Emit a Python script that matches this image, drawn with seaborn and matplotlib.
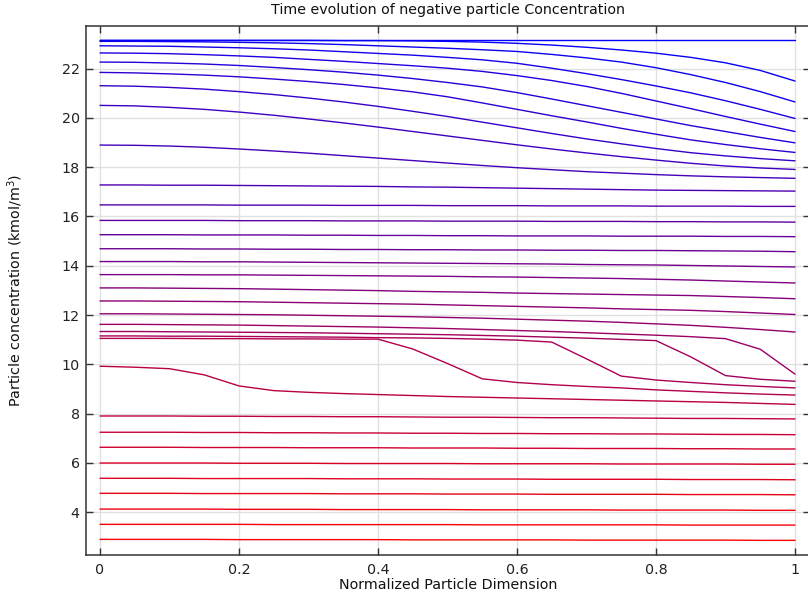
import matplotlib
matplotlib.use("Agg")
import matplotlib.pyplot as plt
import pandas as pd
import seaborn as sns

# Normalized radial position inside the particle (0 = centre, 1 = surface)
x_pos = [0.00, 0.05, 0.10, 0.15, 0.20, 0.25, 0.30, 0.35, 0.40, 0.45, 0.50,
         0.55, 0.60, 0.65, 0.70, 0.75, 0.80, 0.85, 0.90, 0.95, 1.00]

# Concentration profiles (kmol/m^3), one list per saved time step
c00 = [23.15, 23.15, 23.15, 23.15, 23.15, 23.15, 23.15, 23.15, 23.15, 23.15, 23.15,
       23.15, 23.15, 23.15, 23.15, 23.15, 23.15, 23.15, 23.15, 23.15, 23.15]
c01 = [23.15, 23.15, 23.15, 23.15, 23.15, 23.15, 23.15, 23.14, 23.14, 23.13, 23.11,
       23.08, 23.03, 22.96, 22.87, 22.76, 22.63, 22.46, 22.24, 21.93, 21.50]
c02 = [23.11, 23.11, 23.10, 23.09, 23.07, 23.05, 23.02, 22.98, 22.93, 22.88, 22.83,
       22.77, 22.70, 22.58, 22.44, 22.27, 22.04, 21.76, 21.44, 21.07, 20.65]
c03 = [22.93, 22.92, 22.91, 22.88, 22.85, 22.81, 22.76, 22.69, 22.62, 22.55, 22.46,
       22.36, 22.22, 22.02, 21.80, 21.56, 21.30, 21.02, 20.70, 20.35, 19.98]
c04 = [22.64, 22.63, 22.61, 22.57, 22.52, 22.46, 22.38, 22.30, 22.21, 22.12, 22.02,
       21.89, 21.72, 21.52, 21.28, 21.00, 20.69, 20.38, 20.06, 19.75, 19.45]
c05 = [22.27, 22.26, 22.23, 22.19, 22.13, 22.05, 21.96, 21.86, 21.74, 21.60, 21.44,
       21.26, 21.03, 20.77, 20.50, 20.23, 19.96, 19.69, 19.45, 19.21, 18.99]
c06 = [21.85, 21.83, 21.79, 21.74, 21.67, 21.58, 21.48, 21.36, 21.22, 21.06, 20.86,
       20.61, 20.35, 20.09, 19.84, 19.58, 19.34, 19.11, 18.92, 18.75, 18.60]
c07 = [21.31, 21.29, 21.24, 21.17, 21.07, 20.95, 20.81, 20.65, 20.47, 20.27, 20.06,
       19.83, 19.60, 19.37, 19.15, 18.95, 18.76, 18.59, 18.46, 18.35, 18.26]
c08 = [20.51, 20.49, 20.43, 20.35, 20.24, 20.11, 19.96, 19.80, 19.63, 19.45, 19.27,
       19.09, 18.91, 18.74, 18.58, 18.43, 18.29, 18.16, 18.05, 17.97, 17.91]
c09 = [18.90, 18.89, 18.86, 18.81, 18.74, 18.66, 18.57, 18.47, 18.37, 18.27, 18.17,
       18.07, 17.98, 17.90, 17.82, 17.76, 17.70, 17.65, 17.61, 17.58, 17.55]
c10 = [17.28, 17.28, 17.27, 17.27, 17.26, 17.25, 17.24, 17.23, 17.22, 17.20, 17.19,
       17.17, 17.15, 17.13, 17.11, 17.09, 17.07, 17.06, 17.05, 17.04, 17.03]
c11 = [16.47, 16.47, 16.47, 16.47, 16.46, 16.46, 16.46, 16.45, 16.45, 16.45, 16.44,
       16.44, 16.44, 16.43, 16.43, 16.43, 16.42, 16.42, 16.42, 16.41, 16.41]
c12 = [15.84, 15.84, 15.84, 15.84, 15.83, 15.83, 15.83, 15.82, 15.82, 15.82, 15.81,
       15.81, 15.81, 15.80, 15.80, 15.80, 15.79, 15.79, 15.78, 15.78, 15.77]
c13 = [15.26, 15.26, 15.26, 15.25, 15.25, 15.25, 15.24, 15.24, 15.23, 15.23, 15.22,
       15.22, 15.21, 15.21, 15.21, 15.20, 15.20, 15.20, 15.19, 15.19, 15.18]
c14 = [14.69, 14.69, 14.69, 14.68, 14.68, 14.67, 14.67, 14.66, 14.66, 14.65, 14.65,
       14.64, 14.64, 14.63, 14.63, 14.62, 14.62, 14.61, 14.60, 14.59, 14.57]
c15 = [14.17, 14.17, 14.17, 14.16, 14.16, 14.15, 14.14, 14.13, 14.12, 14.11, 14.10,
       14.09, 14.08, 14.07, 14.05, 14.04, 14.03, 14.01, 13.99, 13.97, 13.95]
c16 = [13.64, 13.64, 13.64, 13.63, 13.63, 13.62, 13.61, 13.60, 13.59, 13.58, 13.57,
       13.55, 13.54, 13.52, 13.50, 13.48, 13.45, 13.42, 13.38, 13.34, 13.30]
c17 = [13.10, 13.10, 13.09, 13.08, 13.07, 13.05, 13.03, 13.01, 12.99, 12.96, 12.94,
       12.92, 12.89, 12.87, 12.85, 12.83, 12.81, 12.79, 12.75, 12.71, 12.66]
c18 = [12.57, 12.57, 12.56, 12.55, 12.54, 12.52, 12.50, 12.48, 12.46, 12.44, 12.41,
       12.38, 12.35, 12.32, 12.29, 12.25, 12.22, 12.19, 12.14, 12.08, 12.02]
c19 = [12.05, 12.05, 12.04, 12.03, 12.02, 12.01, 11.99, 11.97, 11.95, 11.93, 11.90,
       11.87, 11.83, 11.79, 11.75, 11.70, 11.64, 11.58, 11.50, 11.41, 11.31]
c20 = [11.62, 11.62, 11.61, 11.60, 11.59, 11.57, 11.55, 11.53, 11.51, 11.48, 11.45,
       11.41, 11.37, 11.33, 11.28, 11.23, 11.18, 11.12, 11.04, 10.61, 9.60]
c21 = [11.33, 11.33, 11.32, 11.31, 11.30, 11.29, 11.28, 11.26, 11.24, 11.22, 11.20,
       11.17, 11.14, 11.10, 11.06, 11.01, 10.96, 10.30, 9.54, 9.39, 9.31]
c22 = [11.15, 11.15, 11.14, 11.14, 11.13, 11.12, 11.11, 11.10, 11.08, 11.07, 11.05,
       11.02, 10.98, 10.90, 10.22, 9.52, 9.36, 9.26, 9.17, 9.10, 9.04]
c23 = [11.05, 11.05, 11.05, 11.04, 11.04, 11.03, 11.03, 11.02, 11.02, 10.62, 10.03,
       9.41, 9.26, 9.17, 9.10, 9.04, 8.96, 8.90, 8.84, 8.79, 8.75]
c24 = [9.92, 9.88, 9.82, 9.57, 9.12, 8.93, 8.86, 8.81, 8.77, 8.73, 8.69,
       8.66, 8.63, 8.60, 8.57, 8.54, 8.51, 8.48, 8.45, 8.41, 8.37]
c25 = [7.90, 7.90, 7.90, 7.89, 7.89, 7.88, 7.88, 7.87, 7.87, 7.86, 7.85,
       7.85, 7.84, 7.83, 7.83, 7.82, 7.81, 7.80, 7.80, 7.79, 7.78]
c26 = [7.24, 7.24, 7.24, 7.23, 7.23, 7.22, 7.22, 7.21, 7.21, 7.20, 7.20,
       7.19, 7.19, 7.18, 7.18, 7.17, 7.17, 7.16, 7.15, 7.15, 7.14]
c27 = [6.63, 6.63, 6.63, 6.62, 6.62, 6.62, 6.61, 6.61, 6.61, 6.60, 6.60,
       6.60, 6.59, 6.59, 6.58, 6.58, 6.58, 6.57, 6.57, 6.56, 6.56]
c28 = [5.99, 5.99, 5.99, 5.99, 5.98, 5.98, 5.98, 5.97, 5.97, 5.97, 5.97,
       5.96, 5.96, 5.96, 5.96, 5.95, 5.95, 5.95, 5.95, 5.94, 5.94]
c29 = [5.37, 5.37, 5.37, 5.36, 5.36, 5.36, 5.36, 5.35, 5.35, 5.35, 5.34,
       5.34, 5.34, 5.33, 5.33, 5.33, 5.33, 5.32, 5.32, 5.32, 5.31]
c30 = [4.76, 4.76, 4.76, 4.75, 4.75, 4.75, 4.75, 4.74, 4.74, 4.74, 4.73,
       4.73, 4.73, 4.72, 4.72, 4.72, 4.72, 4.71, 4.71, 4.71, 4.70]
c31 = [4.12, 4.12, 4.12, 4.12, 4.11, 4.11, 4.11, 4.10, 4.10, 4.10, 4.10,
       4.09, 4.09, 4.09, 4.09, 4.08, 4.08, 4.08, 4.08, 4.07, 4.07]
c32 = [3.50, 3.50, 3.50, 3.50, 3.50, 3.49, 3.49, 3.49, 3.49, 3.49, 3.49,
       3.48, 3.48, 3.48, 3.48, 3.48, 3.48, 3.47, 3.47, 3.47, 3.47]
c33 = [2.89, 2.89, 2.89, 2.89, 2.88, 2.88, 2.88, 2.88, 2.88, 2.87, 2.87,
       2.87, 2.87, 2.87, 2.86, 2.86, 2.86, 2.86, 2.86, 2.85, 2.85]

profiles = [c00, c01, c02, c03, c04, c05, c06, c07, c08, c09, c10, c11,
            c12, c13, c14, c15, c16, c17, c18, c19, c20, c21, c22, c23,
            c24, c25, c26, c27, c28, c29, c30, c31, c32, c33]

x_ticks = [0, 0.2, 0.4, 0.6, 0.8, 1]
x_tick_labels = ["0", "0.2", "0.4", "0.6", "0.8", "1"]
y_ticks = [4, 6, 8, 10, 12, 14, 16, 18, 20, 22]

# Long-format table: one row per (time step, position)
df = pd.concat(
    [pd.DataFrame({"x": x_pos, "conc": prof, "step": k}) for k, prof in enumerate(profiles)],
    ignore_index=True,
)

sns.set_theme(style="white")
plt.rcParams["font.family"] = ["DejaVu Sans"]

W, H = 808, 596
fig = plt.figure(figsize=(W / 100, H / 100), dpi=100)
ax_left, ax_right, ax_top, ax_bottom = 86, 810, 25.7, 554.7
ax = fig.add_axes([ax_left / W, 1 - ax_bottom / H,
                   (ax_right - ax_left) / W, (ax_bottom - ax_top) / H])

# Blue (first step) to red (last step), linear in RGB
palette = sns.blend_palette(["#0000ff", "#ff0000"], n_colors=len(profiles))
sns.lineplot(data=df, x="x", y="conc", hue="step", palette=palette,
             estimator=None, sort=False, legend=False, linewidth=1.0, ax=ax)

ax.set_xlim(-0.02014, 1.02158)
ax.set_ylim(2.268, 23.746)
ax.set_xticks(x_ticks)
ax.set_xticklabels(x_tick_labels)
ax.set_yticks(y_ticks)
ax.set_yticklabels([str(v) for v in y_ticks])

ax.set_axisbelow(True)
ax.grid(True, color="#e1e1e1", linewidth=1.0)
for side, sp in ax.spines.items():
    sp.set_color("#333333")
    sp.set_linewidth(1.1)

ax.tick_params(axis="both", which="major", direction="in", length=5, width=1.0,
               color="#333333", labelsize=10.3, labelcolor="#222222",
               top=True, right=True, bottom=True, left=True)
ax.tick_params(axis="x", pad=6)
ax.tick_params(axis="y", pad=4.5)

ax.set_xlabel("Normalized Particle Dimension", fontsize=10.3, color="#111111")
ax.xaxis.set_label_coords(0.5, -(585 - ax_bottom) / (ax_bottom - ax_top))
ax.xaxis.label.set_va("center")

ax.set_ylabel("Particle concentration (kmol/m$^3$)", fontsize=10.3, color="#111111")
ax.yaxis.set_label_coords(-(ax_left - 15) / (ax_right - ax_left),
                          (ax_bottom - 290) / (ax_bottom - ax_top))
ax.yaxis.label.set_va("center")

ax.set_title("Time evolution of negative particle Concentration", fontsize=10.3,
             color="#111111", pad=0, y=(ax_bottom - 10) / (ax_bottom - ax_top), va="center")

fig.savefig("out.png", dpi=100)
